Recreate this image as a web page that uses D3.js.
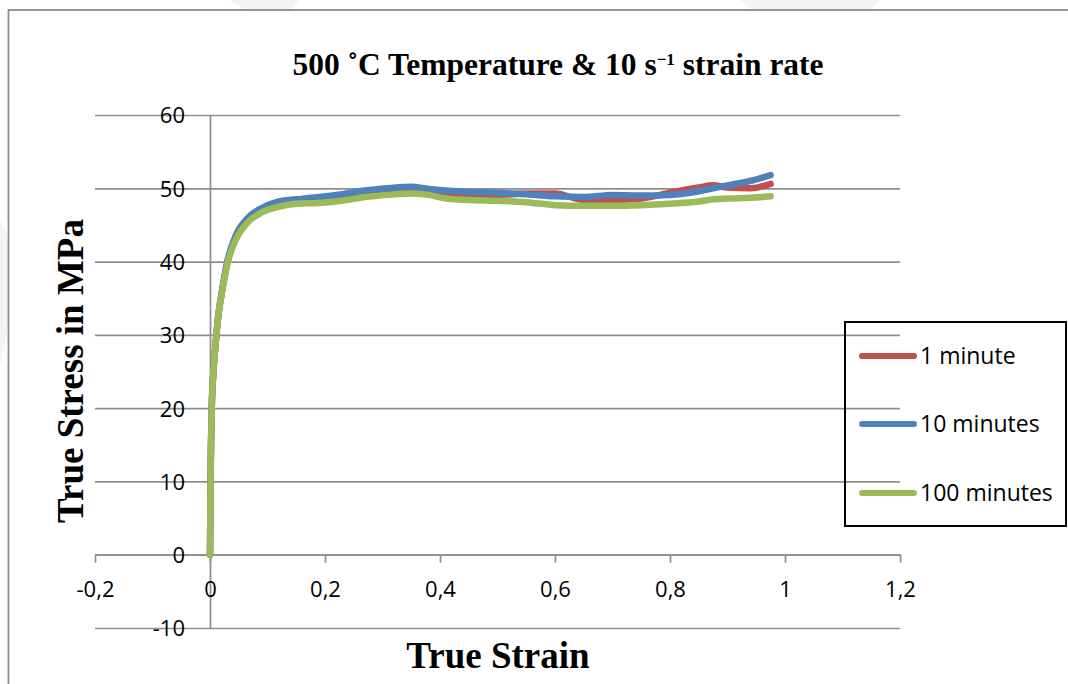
<!DOCTYPE html>
<html>
<head>
<meta charset="utf-8">
<script src="https://cdn.jsdelivr.net/npm/d3@7"></script>
<style>
  html, body { margin: 0; padding: 0; background: #fff; }
  svg { display: block; }
</style>
</head>
<body>
<div id="chart"></div>
<script>
// strain (x) sample points shared by the three curves
const strain = [0, 0.001, 0.003, 0.006, 0.01, 0.015, 0.02, 0.03, 0.045, 0.065, 0.09, 0.12, 0.15, 0.19, 0.23, 0.27, 0.31, 0.35, 0.38, 0.41, 0.45, 0.5, 0.55, 0.6, 0.65, 0.7, 0.75, 0.8, 0.85, 0.875, 0.9, 0.94, 0.975];

// true stress in MPa
const stress1min   = [0, 10, 20, 25, 29, 33, 35.5, 39.8, 43.3, 45.6, 47.0, 47.9, 48.3, 48.6, 49.0, 49.4, 49.8, 50.0, 49.8, 49.4, 49.1, 49.1, 49.3, 49.3, 48.4, 48.4, 48.6, 49.4, 50.1, 50.4, 50.1, 50.0, 50.6];
const stress10min  = [0, 10, 20, 25, 29, 33, 35.6, 40.0, 43.6, 45.9, 47.3, 48.2, 48.5, 48.8, 49.2, 49.7, 50.0, 50.2, 49.9, 49.7, 49.5, 49.4, 49.2, 48.9, 48.8, 49.1, 49.0, 49.1, 49.6, 50.0, 50.4, 51.0, 51.8];
const stress100min = [0, 10, 20, 25, 29, 33, 35.4, 39.6, 43.0, 45.3, 46.7, 47.5, 47.9, 48.0, 48.3, 48.8, 49.1, 49.3, 49.1, 48.6, 48.4, 48.3, 48.1, 47.7, 47.6, 47.6, 47.7, 47.9, 48.2, 48.5, 48.6, 48.7, 48.9];

const seriesNames  = ["1 minute", "10 minutes", "100 minutes"];
const seriesColors = ["#C0504D", "#4F81BD", "#9BBB59"];

const xTicks = [-0.2, 0, 0.2, 0.4, 0.6, 0.8, 1, 1.2];
const yTicks = [-10, 0, 10, 20, 30, 40, 50, 60];

const width = 1068, height = 684;

const svg = d3.select("#chart").append("svg")
  .attr("width", width)
  .attr("height", height);

// faint watermark remnants outside the chart frame
const wm = "#f3f3f3";
[
  [[230, 0], [300, 0], [290, 10], [245, 10]],
  [[740, 0], [880, 0], [870, 10], [752, 10]],
  [[0, 220], [8, 236], [8, 330], [0, 366]]
].forEach(p => {
  svg.append("polygon").attr("points", p.join(" ")).attr("fill", wm);
});

// chart frame
svg.append("rect")
  .attr("x", 8.5).attr("y", 10)
  .attr("width", 1080).attr("height", 700)
  .attr("fill", "#fff")
  .attr("stroke", "#8c8c8c")
  .attr("stroke-width", 1.8);

const x = d3.scaleLinear().domain([-0.2, 1.2]).range([95, 900]);
const y = d3.scaleLinear().domain([-10, 60]).range([628, 115]);

const gridColor = "#8e8e8e";

// horizontal gridlines
const grid = svg.append("g")
  .attr("transform", `translate(${x(-0.2)},0)`)
  .call(d3.axisLeft(y).tickValues(yTicks).tickSize(-(x(1.2) - x(-0.2))).tickFormat(""));
grid.select(".domain").remove();
grid.selectAll("line").attr("stroke", gridColor).attr("stroke-width", 1.7);

// y axis line through x = 0
const yAxisLine = svg.append("g")
  .attr("transform", `translate(${x(0)},0)`)
  .call(d3.axisLeft(y).tickValues([]).tickSizeOuter(0));
yAxisLine.select(".domain").attr("stroke", gridColor).attr("stroke-width", 1.7);

// x axis along y = 0
const xAxis = svg.append("g")
  .attr("transform", `translate(0,${y(0)})`)
  .call(d3.axisBottom(x).tickValues(xTicks).tickSize(8).tickSizeOuter(0).tickPadding(19)
    .tickFormat(d => String(d).replace(".", ",")));
xAxis.select(".domain").attr("stroke", gridColor).attr("stroke-width", 1.7);
xAxis.selectAll("line").attr("stroke", gridColor).attr("stroke-width", 1.7);
xAxis.selectAll("text")
  .attr("fill", "#000")
  .style("font-family", "'Open Sans', sans-serif")
  .style("font-size", "22px");

// y tick labels, sitting on top of the gridlines
const yLabels = svg.append("g")
  .attr("transform", "translate(185,0)")
  .call(d3.axisLeft(y).tickValues(yTicks).tickSize(0).tickPadding(0)
    .tickFormat(d => String(d)));
yLabels.select(".domain").remove();
yLabels.selectAll("text")
  .attr("fill", "#000")
  .attr("dy", "0.36em")
  .style("font-family", "'Open Sans', sans-serif")
  .style("font-size", "22px");

// curves
const series = [stress1min, stress10min, stress100min];
const line = d3.line()
  .x(d => x(d[0]))
  .y(d => y(d[1]))
  .curve(d3.curveMonotoneX);

series.forEach((vals, i) => {
  svg.append("path")
    .datum(strain.map((s, j) => [s, vals[j]]))
    .attr("fill", "none")
    .attr("stroke", seriesColors[i])
    .attr("stroke-width", 6.5)
    .attr("stroke-linecap", "round")
    .attr("stroke-linejoin", "round")
    .attr("d", line);
});

// title
const title = svg.append("text")
  .attr("x", 558)
  .attr("y", 75)
  .attr("text-anchor", "middle")
  .style("font-family", "'Liberation Serif', 'Times New Roman', serif")
  .style("font-weight", "bold")
  .style("font-size", "31.5px");
title.append("tspan").text("500 \u02DAC Temperature & 10 s");
title.append("tspan").attr("dy", -10).style("font-size", "17px").text("\u22121");
title.append("tspan").attr("dy", 10).text(" strain rate");

// axis titles
svg.append("text")
  .attr("x", 498)
  .attr("y", 668)
  .attr("text-anchor", "middle")
  .style("font-family", "'Liberation Serif', 'Times New Roman', serif")
  .style("font-weight", "bold")
  .style("font-size", "37px")
  .text("True Strain");

svg.append("text")
  .attr("transform", "translate(83,371) rotate(-90)")
  .attr("text-anchor", "middle")
  .style("font-family", "'Liberation Serif', 'Times New Roman', serif")
  .style("font-weight", "bold")
  .style("font-size", "37px")
  .text("True Stress in MPa");

// legend
svg.append("rect")
  .attr("x", 845).attr("y", 322)
  .attr("width", 221).attr("height", 204)
  .attr("fill", "none")
  .attr("stroke", "#000")
  .attr("stroke-width", 2);

const legendY = [356, 424, 493];
seriesNames.forEach((name, i) => {
  svg.append("line")
    .attr("x1", 862).attr("x2", 914)
    .attr("y1", legendY[i]).attr("y2", legendY[i])
    .attr("stroke", seriesColors[i])
    .attr("stroke-width", 6)
    .attr("stroke-linecap", "round");
  svg.append("text")
    .attr("x", 920)
    .attr("y", legendY[i])
    .attr("dy", "0.36em")
    .style("font-family", "'Open Sans', sans-serif")
    .style("font-size", "23px")
    .text(name);
});
</script>
</body>
</html>
